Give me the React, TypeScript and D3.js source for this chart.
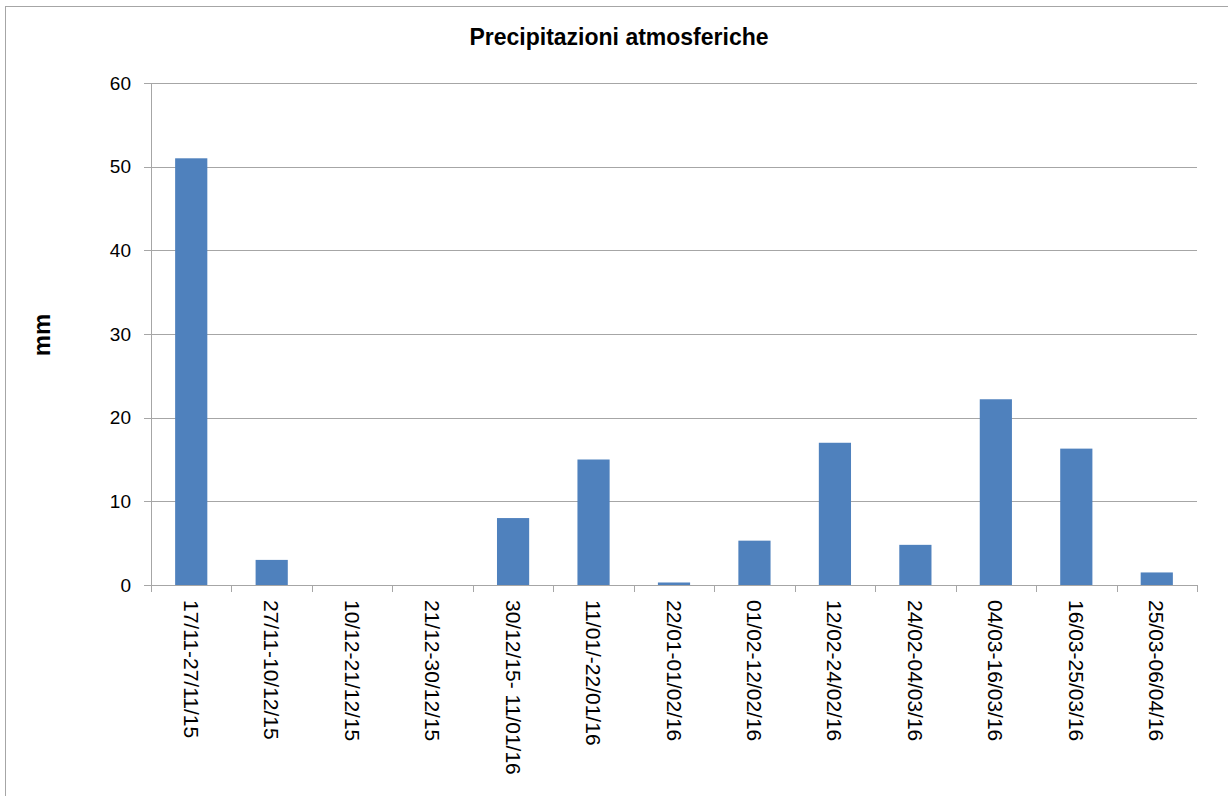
import * as d3 from "d3";

const categories = [
  "17/11-27/11/15",
  "27/11-10/12/15",
  "10/12-21/12/15",
  "21/12-30/12/15",
  "30/12/15- 11/01/16",
  "11/01/-22/01/16",
  "22/01-01/02/16",
  "01/02-12/02/16",
  "12/02-24/02/16",
  "24/02-04/03/16",
  "04/03-16/03/16",
  "16/03-25/03/16",
  "25/03-06/04/16",
];
const rainfall = [51, 3, 0, 0, 8, 15, 0.3, 5.3, 17, 4.8, 22.2, 16.3, 1.5];
const yTicks = [0, 10, 20, 30, 40, 50, 60];

const W = 1228;
const H = 796;
const plot = { left: 151, right: 1197, top: 83, bottom: 585 };
const font = "'Liberation Sans', Arial, sans-serif";
const gridColor = "#a6a6a6";

export default function App() {
  const x = d3
    .scaleBand<string>()
    .domain(categories)
    .range([plot.left, plot.right])
    .paddingInner(0.6)
    .paddingOuter(0.3);
  const y = d3.scaleLinear().domain([0, 60]).range([plot.bottom, plot.top]);
  const step = x.step();
  // boundaries between categories, where Excel puts the ticks
  const xTickPos = d3.range(categories.length + 1).map((i) => plot.left + i * step);

  return (
    <svg
      width={W}
      height={H}
      style={{ position: "absolute", left: 0, top: 0, background: "#fff" }}
      fontFamily={font}
    >
      <rect x={5.5} y={6.5} width={W + 20} height={H + 20} fill="#fff" stroke={gridColor} />

      <text x={619} y={45} textAnchor="middle" fontSize={23} fontWeight="bold">
        Precipitazioni atmosferiche
      </text>

      {/* gridlines + y ticks */}
      {yTicks.map((t) => (
        <g key={t}>
          <line
            x1={plot.left - 7}
            x2={plot.right}
            y1={Math.round(y(t)) + 0.5}
            y2={Math.round(y(t)) + 0.5}
            stroke={gridColor}
          />
          <text
            x={131}
            y={y(t)}
            textAnchor="end"
            dominantBaseline="central"
            fontSize={19}
          >
            {t}
          </text>
        </g>
      ))}

      {/* y axis line */}
      <line x1={plot.left + 0.5} x2={plot.left + 0.5} y1={plot.top} y2={plot.bottom} stroke={gridColor} />

      {/* bars */}
      {categories.map((c, i) => (
        <rect
          key={c}
          x={x(c)}
          y={y(rainfall[i])}
          width={x.bandwidth()}
          height={plot.bottom - y(rainfall[i])}
          fill="#4F81BD"
        />
      ))}

      {/* x ticks */}
      {xTickPos.map((p, i) => (
        <line
          key={i}
          x1={Math.round(p) + 0.5}
          x2={Math.round(p) + 0.5}
          y1={plot.bottom}
          y2={plot.bottom + 7}
          stroke={gridColor}
        />
      ))}

      {/* x labels */}
      {categories.map((c) => {
        const cx = (x(c) ?? 0) + x.bandwidth() / 2;
        return (
          <text
            key={c}
            transform={`translate(${cx},${plot.bottom + 15}) rotate(90)`}
            dominantBaseline="central"
            fontSize={21}
          >
            {c}
          </text>
        );
      })}

      <text
        transform="translate(41,335) rotate(-90)"
        textAnchor="middle"
        dominantBaseline="central"
        fontSize={24}
        fontWeight="bold"
      >
        mm
      </text>
    </svg>
  );
}
